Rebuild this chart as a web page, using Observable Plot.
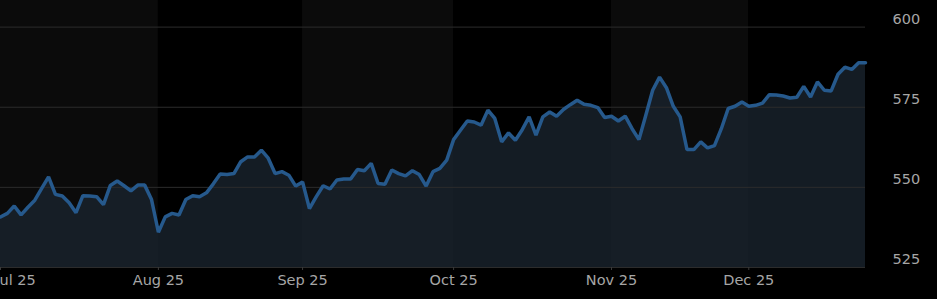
<!DOCTYPE html>
<html>
<head>
<meta charset="utf-8">
<script src="https://cdn.jsdelivr.net/npm/d3@7"></script>
<script src="https://cdn.jsdelivr.net/npm/@observablehq/plot@0.6"></script>
<style>
  html, body { margin: 0; padding: 0; background: #000; overflow: hidden; }
</style>
</head>
<body>
<div id="chart"></div>
<script>
// Daily closes (trading-day index)
const values = [
  540.8, 541.9, 544.2, 541.4, 543.8, 546.0, 549.7, 553.3, 547.8, 547.3,
  545.2, 542.1, 547.4, 547.3, 547.1, 544.6, 550.6, 552.0, 550.5, 548.9,
  550.7, 550.7, 546.2, 536.0, 540.8, 541.9, 541.4, 546.2, 547.4, 547.1,
  548.3, 551.1, 554.2, 554.0, 554.3, 558.0, 559.5, 559.5, 561.6, 559.1,
  554.3, 554.9, 553.8, 550.4, 551.7, 543.4, 547.1, 550.5, 549.5, 552.3,
  552.6, 552.6, 555.6, 555.2, 557.5, 551.2, 551.0, 555.4, 554.3, 553.6,
  555.2, 554.0, 550.4, 554.9, 555.9, 558.5, 564.9, 567.8, 570.7, 570.4,
  569.4, 574.1, 571.5, 564.2, 567.0, 564.7, 568.0, 572.0, 566.3, 572.0,
  573.5, 572.2, 574.3, 575.8, 577.2, 575.9, 575.6, 574.9, 571.8, 572.2,
  570.7, 572.2, 568.3, 564.9, 572.5, 580.3, 584.4, 581.1, 575.3, 572.0,
  561.8, 561.8, 564.2, 562.3, 563.0, 568.3, 574.6, 575.3, 576.6, 575.3,
  575.6, 576.3, 578.9, 578.8, 578.5, 577.9, 578.1, 581.5, 578.2, 582.9,
  580.3, 580.1, 585.3, 587.5, 586.8, 588.9, 588.9
];
// Index of first trading day of each month, and labels
const monthStarts = [0, 23, 44, 66, 89, 109];
const monthLabels = ["Jul 25", "Aug 25", "Sep 25", "Oct 25", "Nov 25", "Dec 25"];
const yTicks = [525, 550, 575, 600];
const yDomain = [525, 608.3];

const lastIndex = values.length - 1;
const bands = monthStarts.map((s, i) => ({
  start: s,
  end: i + 1 < monthStarts.length ? monthStarts[i + 1] : lastIndex,
  shade: i % 2 === 0
}));
const labels = monthStarts.map((s, i) => ({x: s, label: monthLabels[i], first: i === 0}));
const series = values.map((v, i) => ({i, v}));
const textColor = "#a6a6a6";

const chart = Plot.plot({
  width: 937,
  height: 299,
  marginLeft: 0,
  marginRight: 72,
  marginTop: 0,
  marginBottom: 32,
  style: {
    background: "#000",
    color: textColor,
    fontFamily: "DejaVu Sans, sans-serif",
    fontSize: "14.5px",
    overflow: "visible"
  },
  x: {domain: [0, lastIndex], axis: null},
  y: {domain: yDomain, axis: null},
  marks: [
    Plot.rect(bands, {x1: "start", x2: "end", fill: d => d.shade ? "#0b0b0b" : "#000000"}),
    Plot.areaY(series, {x: "i", y1: yDomain[0], y2: "v", fill: "#1b2630", fillOpacity: 0.75}),
    Plot.gridY(yTicks, {stroke: "#2c2c2c", strokeOpacity: 1}),
    Plot.lineY(series, {x: "i", y: "v", stroke: "#26598c", strokeWidth: 3.5, strokeLinejoin: "miter"}),
    Plot.axisY(yTicks, {anchor: "right", tickSize: 0, tickPadding: 27, dy: -8, textAnchor: "start", fill: textColor, label: null}),
    Plot.axisX(monthStarts, {anchor: "bottom", tickSize: 3, stroke: "#3a3a3a", tickFormat: () => "", label: null}),
    Plot.text(labels.filter(d => !d.first), {x: "x", text: "label", frameAnchor: "bottom", dy: 17, fill: textColor}),
    Plot.text(labels.filter(d => d.first), {x: "x", text: "label", frameAnchor: "bottom", dy: 17, dx: 15, fill: textColor})
  ]
});
document.getElementById("chart").appendChild(chart);
</script>
</body>
</html>
